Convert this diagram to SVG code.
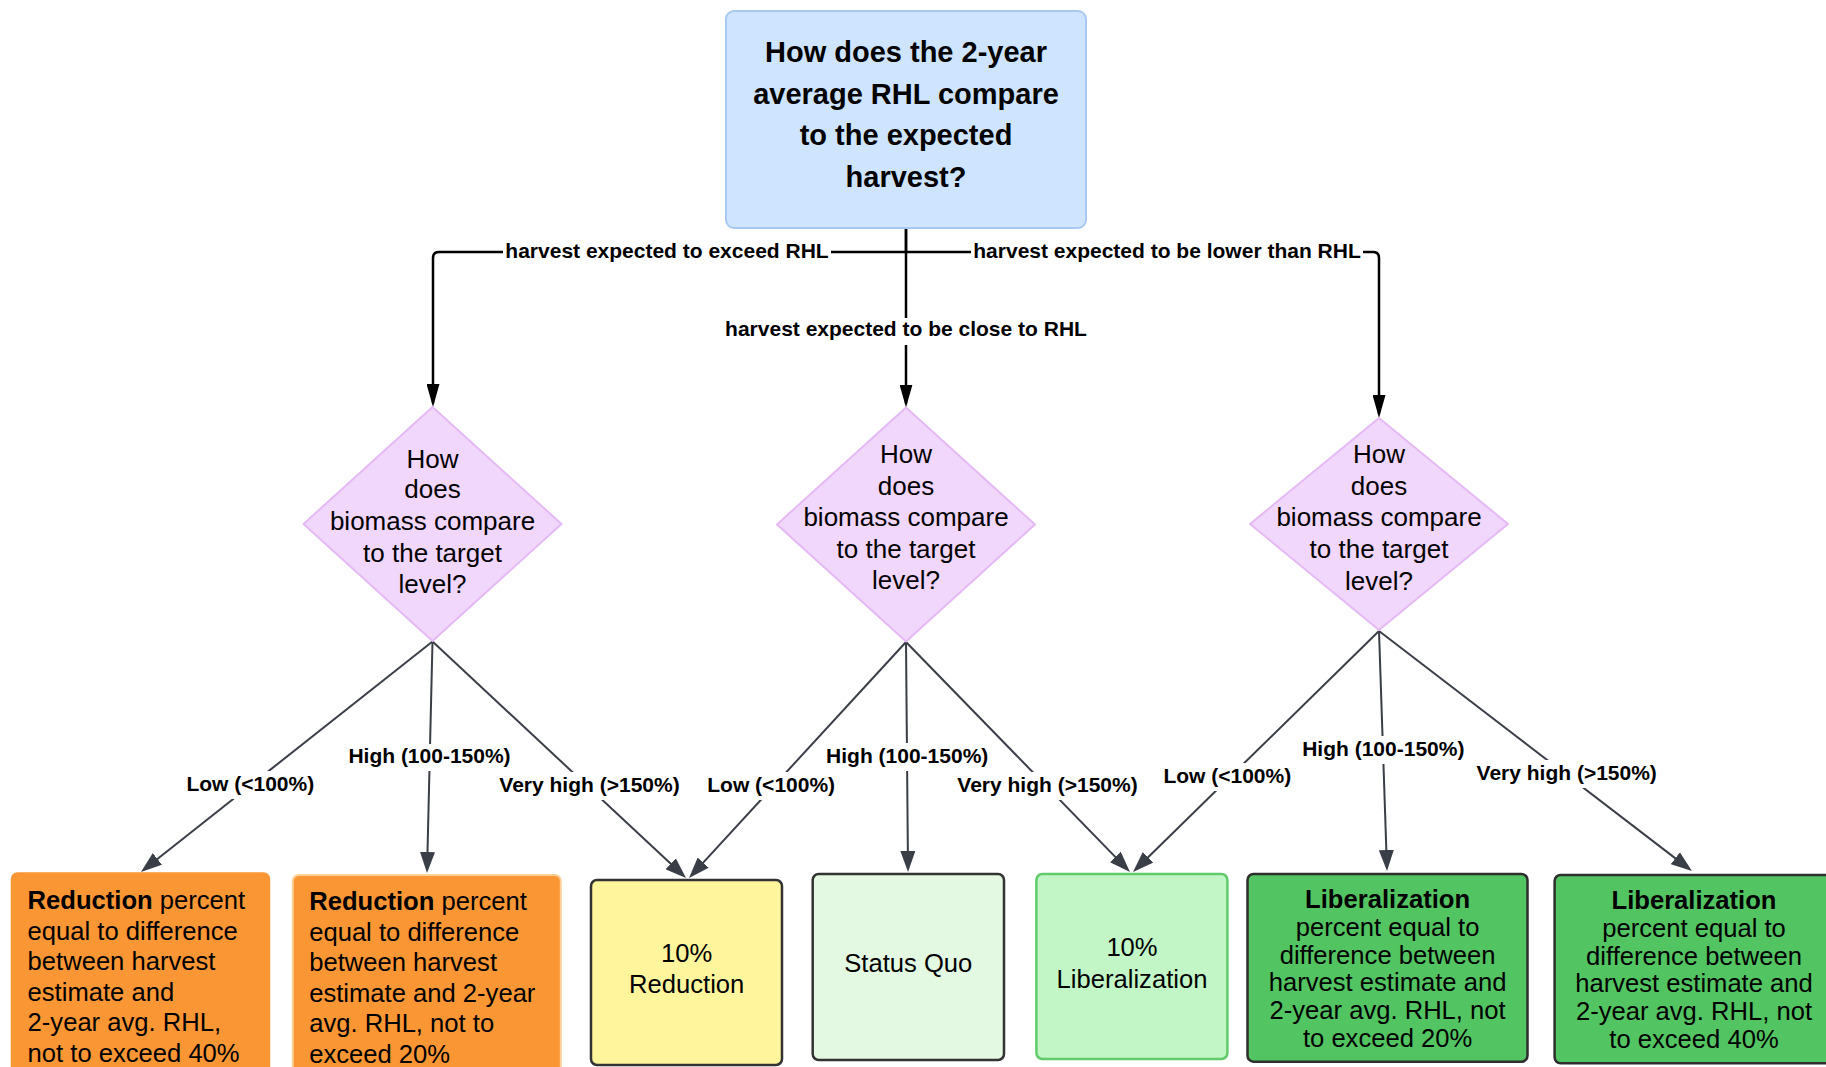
<svg xmlns="http://www.w3.org/2000/svg" width="1826" height="1067" viewBox="0 0 1826 1067">
<style>
text{font-family:"Liberation Sans",Arial,sans-serif;fill:#000}
.title{font-size:29px;font-weight:bold;text-anchor:middle}
.dtxt{font-size:26px;text-anchor:middle}
.btxt{font-size:25.6px}
.ctxt{font-size:25.6px;text-anchor:middle}
.lbl{font-size:21px;font-weight:bold;text-anchor:middle}
.lblbg{fill:#fff}
.topline{fill:none;stroke:#000;stroke-width:2.5}
.botline{fill:none;stroke:#3a3f47;stroke-width:2}
.diamond{fill:#f1d7fc;stroke:#e4b9f5;stroke-width:2;stroke-linejoin:round}
</style>
<defs>
<marker id="arrBlack" markerUnits="userSpaceOnUse" markerWidth="23" markerHeight="13" refX="19" refY="6.5" orient="auto">
<path d="M0,0 L23,6.5 L0,13 Z" fill="#000"/>
</marker>
<marker id="arrGrey" markerUnits="userSpaceOnUse" markerWidth="21" markerHeight="15" refX="17" refY="7.5" orient="auto">
<path d="M0,0 L21,7.5 L0,15 Z" fill="#3a3f47"/>
</marker>
</defs>
<rect width="1826" height="1067" fill="#fff"/>

<g id="connectors">
<path class="topline" d="M906,228 V252"/>
<path class="topline" d="M906,252 H439 Q433,252 433,258 V403" marker-end="url(#arrBlack)"/>
<path class="topline" d="M906,228 V403.5" marker-end="url(#arrBlack)"/>
<path class="topline" d="M906,252 H1373 Q1379,252 1379,258 V414" marker-end="url(#arrBlack)"/>

<path class="botline" d="M432.5,641.5 L144.1,869.5" marker-end="url(#arrGrey)"/>
<path class="botline" d="M432.5,641.5 L427.1,869" marker-end="url(#arrGrey)"/>
<path class="botline" d="M432.5,641.5 L683.1,875.3" marker-end="url(#arrGrey)"/>
<path class="botline" d="M906,642 L691.7,875.1" marker-end="url(#arrGrey)"/>
<path class="botline" d="M906,642 L908,868" marker-end="url(#arrGrey)"/>
<path class="botline" d="M906,642 L1127.2,869.1" marker-end="url(#arrGrey)"/>
<path class="botline" d="M1379,631 L1135.9,869.2" marker-end="url(#arrGrey)"/>
<path class="botline" d="M1379,631 L1386.9,867" marker-end="url(#arrGrey)"/>
<path class="botline" d="M1379,631 L1688.8,868.6" marker-end="url(#arrGrey)"/>

<g id="edge-labels">
<rect class="lblbg" x="503" y="240" width="328" height="24"/>
<text class="lbl" x="667" y="258">harvest expected to exceed RHL</text>
<rect class="lblbg" x="971" y="240" width="392" height="24"/>
<text class="lbl" x="1167" y="258">harvest expected to be lower than RHL</text>
<rect class="lblbg" x="722" y="318" width="368" height="27"/>
<text class="lbl" x="906" y="336">harvest expected to be close to RHL</text>

<rect class="lblbg" x="184" y="771" width="133" height="28"/>
<text class="lbl" x="250.3" y="791">Low (&lt;100%)</text>
<rect class="lblbg" x="346" y="744" width="167" height="27"/>
<text class="lbl" x="429.5" y="763.3">High (100-150%)</text>
<rect class="lblbg" x="497" y="772" width="185" height="28"/>
<text class="lbl" x="589.5" y="791.7">Very high (&gt;150%)</text>

<rect class="lblbg" x="705" y="772" width="133" height="28"/>
<text class="lbl" x="771.2" y="791.7">Low (&lt;100%)</text>
<rect class="lblbg" x="824" y="743" width="167" height="28"/>
<text class="lbl" x="907.2" y="762.7">High (100-150%)</text>
<rect class="lblbg" x="955" y="772" width="185" height="28"/>
<text class="lbl" x="1047.5" y="791.7">Very high (&gt;150%)</text>

<rect class="lblbg" x="1161" y="763" width="133" height="28"/>
<text class="lbl" x="1227.3" y="783.3">Low (&lt;100%)</text>
<rect class="lblbg" x="1300" y="736" width="167" height="28"/>
<text class="lbl" x="1383.3" y="756">High (100-150%)</text>
<rect class="lblbg" x="1474" y="760" width="185" height="28"/>
<text class="lbl" x="1566.7" y="780">Very high (&gt;150%)</text>
</g>
</g>

<g id="n-top">
<rect x="726" y="11" width="360" height="217" rx="8" fill="#cfe4ff" stroke="#a9c9f2" stroke-width="2"/>
<text class="title" x="906" y="62">How does the 2-year</text>
<text class="title" x="906" y="103.5">average RHL compare</text>
<text class="title" x="906" y="145">to the expected</text>
<text class="title" x="906" y="186.5">harvest?</text>
</g>

<g id="n-diamond-left">
<path class="diamond" d="M432.5,407 L561.5,524 L432.5,641 L303.5,524 Z"/>
<text class="dtxt" x="432.5" y="467.7">How</text>
<text class="dtxt" x="432.5" y="498">does</text>
<text class="dtxt" x="432.5" y="530">biomass compare</text>
<text class="dtxt" x="432.5" y="561.7">to the target</text>
<text class="dtxt" x="432.5" y="593.3">level?</text>
</g>

<g id="n-diamond-mid">
<path class="diamond" d="M906,407.5 L1035,524.5 L906,641.5 L777,524.5 Z"/>
<text class="dtxt" x="906" y="463.3">How</text>
<text class="dtxt" x="906" y="494.5">does</text>
<text class="dtxt" x="906" y="526">biomass compare</text>
<text class="dtxt" x="906" y="557.7">to the target</text>
<text class="dtxt" x="906" y="589.3">level?</text>
</g>

<g id="n-diamond-right">
<path class="diamond" d="M1379,418 L1508,524 L1379,630 L1250,524 Z"/>
<text class="dtxt" x="1379" y="463.3">How</text>
<text class="dtxt" x="1379" y="494.5">does</text>
<text class="dtxt" x="1379" y="526">biomass compare</text>
<text class="dtxt" x="1379" y="558">to the target</text>
<text class="dtxt" x="1379" y="590">level?</text>
</g>

<g id="n-red40">
<rect x="11.5" y="873" width="258" height="230" rx="6" fill="#fb9634" stroke="#fb9634" stroke-width="1.5"/>
<text class="btxt" x="27.6" y="909.3"><tspan font-weight="bold">Reduction</tspan> percent</text>
<text class="btxt" x="27.6" y="939.8">equal to difference</text>
<text class="btxt" x="27.6" y="970.3">between harvest</text>
<text class="btxt" x="27.6" y="1000.8">estimate and</text>
<text class="btxt" x="27.6" y="1031.3">2-year avg. RHL,</text>
<text class="btxt" x="27.6" y="1061.8">not to exceed 40%</text>
</g>

<g id="n-red20">
<rect x="292.8" y="875" width="268" height="230" rx="6" fill="#fb9634" stroke="#fdd196" stroke-width="2"/>
<text class="btxt" x="309.2" y="910"><tspan font-weight="bold">Reduction</tspan> percent</text>
<text class="btxt" x="309.2" y="940.5">equal to difference</text>
<text class="btxt" x="309.2" y="971">between harvest</text>
<text class="btxt" x="309.2" y="1001.5">estimate and 2-year</text>
<text class="btxt" x="309.2" y="1032">avg. RHL, not to</text>
<text class="btxt" x="309.2" y="1062.5">exceed 20%</text>
</g>

<g id="n-red10">
<rect x="591" y="880" width="191" height="185" rx="6" fill="#fff59d" stroke="#333" stroke-width="2.5"/>
<text class="ctxt" x="686.7" y="961.7">10%</text>
<text class="ctxt" x="686.7" y="993.3">Reduction</text>
</g>

<g id="n-status">
<rect x="812.7" y="874" width="191.3" height="186" rx="6" fill="#e3f9e2" stroke="#333" stroke-width="2.5"/>
<text class="ctxt" x="908.3" y="972.3">Status Quo</text>
</g>

<g id="n-lib10">
<rect x="1036.4" y="874" width="191" height="185" rx="6" fill="#c3f6c7" stroke="#5fcc69" stroke-width="2.5"/>
<text class="ctxt" x="1132" y="956">10%</text>
<text class="ctxt" x="1132" y="987.5">Liberalization</text>
</g>

<g id="n-lib20">
<rect x="1247.5" y="874" width="280" height="187.7" rx="6" fill="#53c462" stroke="#2e2e2e" stroke-width="2.5"/>
<text class="ctxt" x="1387.6" y="908.3" font-weight="bold">Liberalization</text>
<text class="ctxt" x="1387.6" y="936">percent equal to</text>
<text class="ctxt" x="1387.6" y="963.7">difference between</text>
<text class="ctxt" x="1387.6" y="991.4">harvest estimate and</text>
<text class="ctxt" x="1387.6" y="1019.1">2-year avg. RHL, not</text>
<text class="ctxt" x="1387.6" y="1046.8">to exceed 20%</text>
</g>

<g id="n-lib40">
<rect x="1554.6" y="875" width="290" height="188.3" rx="6" fill="#53c462" stroke="#2e2e2e" stroke-width="2.5"/>
<text class="ctxt" x="1694" y="909.3" font-weight="bold">Liberalization</text>
<text class="ctxt" x="1694" y="937">percent equal to</text>
<text class="ctxt" x="1694" y="964.7">difference between</text>
<text class="ctxt" x="1694" y="992.4">harvest estimate and</text>
<text class="ctxt" x="1694" y="1020.1">2-year avg. RHL, not</text>
<text class="ctxt" x="1694" y="1047.8">to exceed 40%</text>
</g>
</svg>
